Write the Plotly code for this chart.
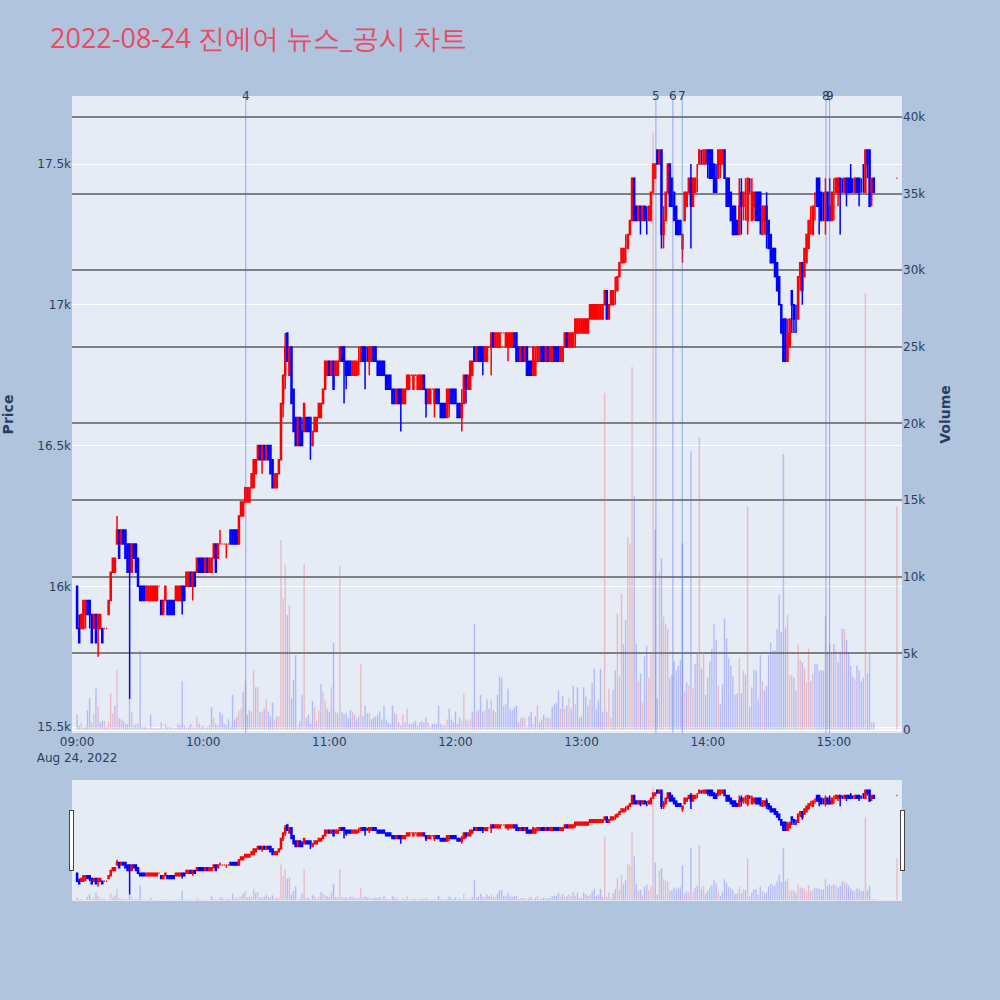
import pandas as pd
import plotly.graph_objects as go
from plotly.subplots import make_subplots

# 1분봉 09:00 ~ 15:19, 그리고 15:30 종가 단일가
times = list(pd.date_range("2022-08-24 09:00", periods=380, freq="min")) + [pd.Timestamp("2022-08-24 15:30")]

opens = [
    16000, 15850, 15850, 15850, 15900, 15950, 15950, 15900, 15850, 15900,
    15850, 15850, 15850, 15850, 15850, 15900, 15950, 16050, 16050, 16150,
    16200, 16150, 16200, 16200, 16150, 16150, 16050, 16150, 16150, 16100,
    16000, 16000, 16000, 15950, 15950, 15950, 15950, 15950, 15950, 16000,
    15950, 15900, 15950, 15950, 15950, 15950, 15950, 15950, 15950, 15950,
    16000, 16000, 16000, 16000, 16050, 16000, 16050, 16050, 16100, 16100,
    16100, 16050, 16100, 16050, 16050, 16100, 16150, 16100, 16150, 16150,
    16150, 16150, 16150, 16200, 16200, 16200, 16200, 16150, 16250, 16250,
    16300, 16300, 16300, 16350, 16350, 16400, 16450, 16500, 16450, 16500,
    16450, 16500, 16500, 16450, 16350, 16350, 16400, 16450, 16650, 16750,
    16900, 16750, 16850, 16700, 16600, 16500, 16600, 16550, 16550, 16600,
    16600, 16600, 16500, 16550, 16550, 16600, 16600, 16650, 16700, 16750,
    16800, 16750, 16800, 16750, 16750, 16800, 16850, 16850, 16800, 16800,
    16800, 16750, 16750, 16750, 16800, 16800, 16850, 16850, 16800, 16800,
    16800, 16850, 16850, 16800, 16800, 16800, 16800, 16750, 16750, 16750,
    16700, 16700, 16650, 16700, 16700, 16650, 16650, 16700, 16700, 16750,
    16700, 16750, 16700, 16700, 16700, 16750, 16700, 16650, 16650, 16700,
    16650, 16700, 16700, 16650, 16650, 16650, 16600, 16650, 16700, 16700,
    16700, 16650, 16650, 16600, 16650, 16750, 16700, 16700, 16750, 16850,
    16800, 16850, 16850, 16850, 16800, 16800, 16850, 16850, 16900, 16850,
    16850, 16850, 16900, 16900, 16850, 16850, 16850, 16850, 16900, 16900,
    16850, 16800, 16850, 16800, 16850, 16800, 16800, 16750, 16750, 16800,
    16800, 16850, 16850, 16800, 16850, 16800, 16800, 16850, 16850, 16850,
    16800, 16800, 16850, 16900, 16850, 16850, 16850, 16900, 16900, 16900,
    16900, 16900, 16900, 16900, 16950, 16950, 16950, 16950, 16950, 16950,
    16950, 17000, 17050, 16950, 17000, 17000, 17050, 17050, 17100, 17150,
    17150, 17200, 17200, 17250, 17300, 17450, 17350, 17300, 17350, 17300,
    17350, 17300, 17300, 17300, 17400, 17450, 17550, 17500, 17550, 17250,
    17300, 17400, 17500, 17450, 17400, 17350, 17300, 17300, 17200, 17300,
    17350, 17400, 17450, 17350, 17400, 17450, 17500, 17500, 17500, 17500,
    17550, 17550, 17550, 17500, 17450, 17450, 17500, 17500, 17550, 17450,
    17450, 17400, 17350, 17350, 17300, 17250, 17400, 17350, 17400, 17300,
    17400, 17300, 17350, 17400, 17400, 17400, 17250, 17300, 17350, 17300,
    17250, 17200, 17200, 17150, 17100, 17000, 16950, 16950, 16800, 16850,
    17050, 17000, 16950, 16950, 17100, 17150, 17100, 17150, 17200, 17300,
    17250, 17350, 17450, 17450, 17400, 17300, 17300, 17400, 17350, 17300,
    17400, 17400, 17400, 17450, 17400, 17400, 17450, 17450, 17450, 17400,
    17400, 17450, 17450, 17400, 17400, 17400, 17550, 17550, 17400, 17450,
    17450,
]

highs = [
    16000, 15900, 15900, 15950, 15950, 15950, 15950, 15900, 15900, 15900,
    15900, 15900, 15850, 15850, 15850, 15950, 16050, 16100, 16100, 16250,
    16200, 16200, 16200, 16200, 16150, 16150, 16150, 16150, 16150, 16100,
    16000, 16000, 16000, 16000, 16000, 16000, 16000, 16000, 16000, 16000,
    15950, 15950, 16000, 15950, 15950, 15950, 15950, 16000, 16000, 16000,
    16000, 16000, 16050, 16050, 16050, 16050, 16050, 16100, 16100, 16100,
    16100, 16100, 16100, 16100, 16100, 16150, 16150, 16150, 16200, 16150,
    16150, 16150, 16150, 16200, 16200, 16200, 16200, 16250, 16300, 16300,
    16350, 16350, 16350, 16400, 16450, 16450, 16500, 16500, 16500, 16500,
    16500, 16500, 16500, 16450, 16400, 16400, 16450, 16650, 16750, 16900,
    16900, 16850, 16850, 16700, 16600, 16600, 16600, 16600, 16650, 16600,
    16600, 16600, 16550, 16600, 16600, 16650, 16650, 16700, 16800, 16800,
    16800, 16800, 16800, 16800, 16800, 16850, 16850, 16850, 16800, 16800,
    16800, 16800, 16800, 16800, 16850, 16850, 16850, 16850, 16850, 16850,
    16850, 16850, 16850, 16800, 16800, 16800, 16800, 16750, 16750, 16750,
    16700, 16700, 16700, 16700, 16700, 16700, 16700, 16750, 16750, 16750,
    16750, 16750, 16750, 16750, 16750, 16750, 16700, 16700, 16700, 16700,
    16700, 16700, 16700, 16650, 16650, 16650, 16700, 16700, 16700, 16700,
    16700, 16650, 16650, 16700, 16750, 16750, 16750, 16800, 16800, 16850,
    16850, 16850, 16850, 16850, 16850, 16850, 16850, 16900, 16900, 16900,
    16900, 16900, 16900, 16900, 16900, 16900, 16900, 16900, 16900, 16900,
    16850, 16850, 16850, 16850, 16850, 16800, 16800, 16850, 16850, 16850,
    16850, 16850, 16850, 16850, 16850, 16850, 16850, 16850, 16850, 16850,
    16850, 16850, 16900, 16900, 16900, 16900, 16900, 16950, 16950, 16950,
    16950, 16950, 16950, 16950, 17000, 17000, 17000, 17000, 17000, 17000,
    17000, 17050, 17050, 17000, 17050, 17050, 17100, 17100, 17150, 17200,
    17200, 17250, 17250, 17300, 17450, 17450, 17350, 17350, 17350, 17350,
    17350, 17350, 17350, 17400, 17500, 17500, 17550, 17550, 17550, 17350,
    17400, 17500, 17500, 17450, 17400, 17350, 17300, 17300, 17250, 17400,
    17400, 17450, 17500, 17450, 17450, 17500, 17550, 17550, 17550, 17550,
    17550, 17550, 17550, 17500, 17500, 17550, 17550, 17550, 17550, 17450,
    17450, 17400, 17350, 17350, 17300, 17450, 17450, 17400, 17450, 17450,
    17450, 17450, 17400, 17400, 17400, 17400, 17350, 17350, 17400, 17300,
    17250, 17200, 17200, 17150, 17100, 17000, 16950, 16950, 16950, 16950,
    17050, 17000, 17000, 17100, 17150, 17150, 17200, 17250, 17300, 17350,
    17350, 17400, 17450, 17450, 17400, 17400, 17450, 17400, 17450, 17400,
    17450, 17450, 17450, 17450, 17450, 17450, 17450, 17450, 17500, 17450,
    17450, 17450, 17450, 17450, 17500, 17550, 17550, 17550, 17450, 17450,
    17450,
]

lows = [
    15850, 15800, 15850, 15850, 15850, 15900, 15850, 15800, 15850, 15800,
    15750, 15850, 15800, 15850, 15850, 15900, 15950, 16050, 16050, 16150,
    16100, 16150, 16150, 16100, 16050, 15600, 16050, 16100, 16050, 16000,
    15950, 15950, 15950, 15950, 15950, 15950, 15950, 15950, 15950, 16000,
    15900, 15900, 15950, 15900, 15900, 15900, 15900, 15950, 15950, 15950,
    15900, 15950, 16000, 16000, 16000, 15950, 16000, 16050, 16050, 16050,
    16050, 16050, 16050, 16050, 16050, 16100, 16050, 16100, 16150, 16150,
    16150, 16100, 16150, 16150, 16150, 16150, 16150, 16150, 16250, 16250,
    16300, 16300, 16300, 16350, 16350, 16400, 16450, 16450, 16400, 16450,
    16450, 16450, 16400, 16350, 16350, 16350, 16400, 16450, 16600, 16700,
    16800, 16750, 16650, 16550, 16500, 16500, 16500, 16500, 16550, 16550,
    16550, 16450, 16500, 16550, 16550, 16600, 16600, 16650, 16700, 16750,
    16750, 16750, 16700, 16750, 16750, 16800, 16800, 16650, 16700, 16750,
    16750, 16750, 16750, 16750, 16750, 16800, 16800, 16700, 16800, 16750,
    16800, 16800, 16800, 16750, 16750, 16750, 16750, 16700, 16700, 16700,
    16650, 16650, 16650, 16650, 16550, 16650, 16650, 16700, 16700, 16750,
    16700, 16750, 16700, 16700, 16700, 16700, 16600, 16650, 16650, 16700,
    16600, 16650, 16650, 16600, 16600, 16600, 16600, 16600, 16650, 16650,
    16650, 16600, 16600, 16550, 16650, 16650, 16700, 16700, 16750, 16800,
    16800, 16800, 16800, 16750, 16800, 16800, 16850, 16750, 16850, 16850,
    16850, 16850, 16900, 16900, 16850, 16800, 16850, 16850, 16850, 16800,
    16800, 16800, 16800, 16800, 16750, 16750, 16750, 16750, 16750, 16800,
    16800, 16800, 16800, 16800, 16800, 16800, 16800, 16800, 16800, 16800,
    16800, 16800, 16850, 16850, 16850, 16850, 16850, 16850, 16900, 16900,
    16900, 16900, 16900, 16900, 16950, 16950, 16950, 16950, 16950, 16950,
    16950, 17000, 16950, 16950, 17000, 17000, 17000, 17050, 17100, 17150,
    17150, 17150, 17200, 17250, 17300, 17300, 17300, 17300, 17250, 17300,
    17300, 17250, 17300, 17300, 17400, 17450, 17500, 17500, 17200, 17200,
    17300, 17400, 17350, 17350, 17300, 17250, 17250, 17250, 17150, 17300,
    17350, 17400, 17200, 17350, 17400, 17400, 17500, 17500, 17500, 17500,
    17450, 17450, 17450, 17400, 17400, 17450, 17450, 17500, 17450, 17350,
    17350, 17300, 17250, 17250, 17250, 17250, 17250, 17300, 17300, 17250,
    17400, 17300, 17300, 17300, 17300, 17250, 17250, 17250, 17200, 17200,
    17150, 17150, 17100, 17050, 17000, 16900, 16800, 16800, 16800, 16850,
    16900, 16900, 16900, 16950, 17050, 17000, 17100, 17150, 17200, 17250,
    17250, 17300, 17350, 17250, 17300, 17300, 17250, 17300, 17300, 17300,
    17300, 17400, 17350, 17250, 17400, 17400, 17350, 17400, 17400, 17400,
    17400, 17400, 17350, 17400, 17400, 17400, 17450, 17350, 17350, 17400,
    17450,
]

closes = [
    15850, 15800, 15900, 15950, 15950, 15900, 15900, 15800, 15900, 15800,
    15900, 15900, 15800, 15850, 15850, 15950, 16050, 16100, 16100, 16200,
    16100, 16200, 16150, 16100, 16050, 16050, 16150, 16100, 16050, 16000,
    15950, 15950, 15950, 16000, 16000, 16000, 16000, 16000, 16000, 16000,
    15900, 15950, 16000, 15900, 15900, 15900, 15900, 16000, 16000, 16000,
    15950, 15950, 16050, 16050, 16000, 16050, 16000, 16100, 16050, 16050,
    16050, 16100, 16050, 16100, 16100, 16150, 16050, 16150, 16150, 16150,
    16150, 16150, 16150, 16150, 16150, 16150, 16150, 16250, 16300, 16300,
    16350, 16350, 16350, 16400, 16450, 16450, 16500, 16450, 16500, 16450,
    16500, 16450, 16400, 16350, 16400, 16400, 16450, 16650, 16750, 16850,
    16800, 16850, 16650, 16550, 16500, 16600, 16500, 16500, 16650, 16550,
    16550, 16550, 16550, 16600, 16600, 16650, 16650, 16700, 16800, 16800,
    16750, 16800, 16700, 16800, 16800, 16850, 16800, 16800, 16750, 16750,
    16750, 16800, 16800, 16800, 16800, 16850, 16800, 16800, 16800, 16850,
    16850, 16800, 16800, 16750, 16750, 16750, 16750, 16700, 16700, 16700,
    16650, 16650, 16700, 16650, 16650, 16700, 16700, 16750, 16750, 16750,
    16750, 16750, 16750, 16750, 16750, 16700, 16650, 16700, 16700, 16700,
    16700, 16650, 16650, 16600, 16600, 16600, 16700, 16700, 16650, 16650,
    16650, 16600, 16600, 16650, 16750, 16700, 16750, 16800, 16800, 16800,
    16850, 16800, 16800, 16800, 16850, 16850, 16850, 16900, 16850, 16900,
    16900, 16900, 16900, 16900, 16900, 16900, 16900, 16900, 16850, 16800,
    16800, 16850, 16800, 16850, 16750, 16750, 16750, 16850, 16800, 16850,
    16850, 16800, 16800, 16850, 16800, 16850, 16850, 16800, 16800, 16800,
    16850, 16850, 16900, 16850, 16900, 16900, 16900, 16950, 16950, 16950,
    16950, 16950, 16950, 16950, 17000, 17000, 17000, 17000, 17000, 17000,
    17000, 17050, 16950, 17000, 17050, 17050, 17050, 17100, 17150, 17200,
    17200, 17200, 17250, 17300, 17450, 17300, 17300, 17350, 17300, 17350,
    17300, 17300, 17350, 17400, 17500, 17500, 17500, 17550, 17250, 17300,
    17400, 17500, 17350, 17350, 17300, 17250, 17250, 17250, 17250, 17400,
    17400, 17450, 17350, 17450, 17450, 17450, 17550, 17500, 17550, 17550,
    17500, 17450, 17450, 17400, 17400, 17550, 17550, 17550, 17450, 17350,
    17350, 17300, 17250, 17250, 17250, 17350, 17350, 17400, 17400, 17450,
    17400, 17400, 17400, 17300, 17300, 17300, 17350, 17350, 17250, 17200,
    17150, 17150, 17100, 17050, 17000, 16900, 16800, 16800, 16900, 16950,
    17000, 16950, 16950, 17100, 17150, 17050, 17200, 17250, 17300, 17300,
    17350, 17350, 17350, 17350, 17300, 17300, 17400, 17300, 17300, 17400,
    17400, 17450, 17450, 17400, 17400, 17450, 17400, 17400, 17400, 17400,
    17450, 17400, 17400, 17400, 17400, 17550, 17500, 17350, 17450, 17400,
    17450,
]

volumes = [
    1000, 300, 500, 150, 200, 1300, 2100, 500, 1100, 2700,
    1600, 500, 600, 600, 200, 500, 2400, 1100, 1600, 3900,
    800, 700, 600, 400, 400, 2100, 1200, 300, 400, 400,
    5200, 200, 200, 200, 100, 1000, 100, 150, 100, 100,
    500, 100, 400, 200, 200, 200, 100, 150, 400, 300,
    3200, 300, 150, 200, 400, 200, 150, 900, 400, 200,
    300, 150, 200, 300, 1500, 800, 400, 300, 1200, 1000,
    400, 300, 700, 200, 2300, 700, 900, 1300, 1400, 2500,
    3200, 1000, 1300, 1200, 3900, 2800, 2800, 1200, 1200, 1400,
    2000, 1200, 900, 1800, 700, 900, 900, 12400, 8600, 10800,
    7500, 8100, 2100, 3300, 4900, 300, 600, 2300, 10800, 800,
    1000, 400, 1900, 1500, 600, 1300, 3000, 2500, 1900, 1400,
    1200, 2800, 5700, 1200, 1100, 10700, 1200, 1000, 1100, 800,
    1300, 1200, 1000, 700, 900, 4300, 900, 1600, 1100, 1100,
    700, 800, 900, 1000, 1200, 700, 1600, 700, 500, 400,
    1600, 1100, 1000, 500, 300, 1000, 500, 1400, 400, 400,
    500, 600, 300, 500, 600, 500, 800, 500, 200, 400,
    400, 400, 1600, 400, 300, 300, 700, 1400, 700, 500,
    1200, 400, 800, 600, 2400, 700, 600, 700, 1200, 6900,
    1200, 1300, 2300, 1200, 1300, 2000, 1400, 2000, 1300, 1200,
    2300, 3500, 3400, 1600, 1700, 2700, 1400, 1300, 1500, 1600,
    500, 800, 800, 800, 200, 900, 1200, 400, 900, 1600,
    500, 700, 1000, 800, 800, 800, 1500, 1700, 1800, 2600,
    1400, 2200, 1400, 1600, 2100, 1400, 2900, 1700, 2800, 800,
    900, 2800, 2200, 1600, 2000, 3100, 4000, 1400, 2000, 4000,
    1200, 22000, 1200, 2700, 800, 2600, 3900, 7600, 3500, 8900,
    5600, 7200, 12600, 12200, 23700, 15300, 5600, 3200, 3700, 1800,
    4800, 5500, 3400, 4900, 39000, 13100, 2100, 10300, 11200, 7400,
    6900, 6600, 3400, 3600, 4500, 3900, 4200, 4600, 12200, 2500,
    3100, 2900, 18200, 2700, 4300, 5000, 19100, 4000, 5000, 2300,
    3400, 4500, 5300, 6900, 5900, 2900, 1700, 3000, 7300, 6000,
    4700, 4200, 3500, 2300, 2400, 4700, 2400, 3900, 3600, 14600,
    1500, 2800, 3900, 3900, 2000, 4900, 3200, 2600, 2900, 4900,
    5700, 5200, 5200, 6600, 8800, 6400, 18000, 6700, 7500, 3600,
    3600, 3400, 2600, 5600, 4600, 4400, 4000, 3100, 5300, 3200,
    3700, 4300, 4300, 3900, 3900, 3900, 7400, 5100, 5600, 5100,
    5600, 5200, 4400, 5100, 6600, 6600, 5900, 5100, 4200, 3500,
    3300, 4200, 3900, 3200, 3400, 28500, 3700, 5000, 500, 500,
    14600,
]

# 뉴스/공시 시각
news_times = ["2022-08-24 10:20:16", "2022-08-24 13:35:21", "2022-08-24 13:43:26",
              "2022-08-24 13:47:52", "2022-08-24 14:56:14", "2022-08-24 14:57:57"]
news_labels = ["4", "5", "6", "7", "8", "9"]

# 전일 대비 상승이면 빨강, 아니면 파랑
vol_colors = ["blue"]
for i in range(1, len(closes)):
    vol_colors.append("red" if closes[i] > closes[i - 1] else "blue")

fig = make_subplots(specs=[[{"secondary_y": True}]])

fig.add_trace(go.Candlestick(
    x=times, open=opens, high=highs, low=lows, close=closes,
    increasing=dict(line=dict(color="red", width=1.5), fillcolor="red"),
    decreasing=dict(line=dict(color="blue", width=1.5), fillcolor="blue"),
    name="Price", showlegend=False,
), secondary_y=False)

fig.add_trace(go.Bar(
    x=times, y=volumes, marker_color=vol_colors, opacity=0.25,
    name="Volume", showlegend=False,
), secondary_y=True)

for t, label in zip(news_times, news_labels):
    fig.add_shape(type="line", x0=t, x1=t, xref="x", y0=0, y1=1, yref="paper",
                  line=dict(color="royalblue", width=1), opacity=0.5)
    fig.add_annotation(x=t, y=1, xref="x", yref="paper", yanchor="middle", text=label,
                       showarrow=False, font=dict(size=12, color="#2a3f5f"))

fig.update_layout(
    width=1000, height=1000,
    font=dict(family="DejaVu Sans"),
    title=dict(text="2022-08-24 진에어 뉴스_공시 차트", x=0.05, y=0.961, yanchor="middle",
               font=dict(family="Open Sans", size=27, color="#EA4A64")),
    paper_bgcolor="lightsteelblue",
    plot_bgcolor="#E5ECF6",
    margin=dict(l=72, r=98, t=96, b=100),
    showlegend=False,
)

fig.update_xaxes(
    domain=[0, 1],
    range=["2022-08-24 08:57:35", "2022-08-24 15:32:25"],
    rangeslider=dict(visible=True, range=["2022-08-24 08:59:30", "2022-08-24 15:30:30"],
                     bgcolor="#E5ECF6"),
)
fig.update_yaxes(title_text="<b>Price</b>", title_standoff=20, automargin=False,
                 range=[15479, 17742], secondary_y=False)
fig.update_yaxes(title_text="<b>Volume</b>", range=[-200, 41370], gridcolor="gray",
                 gridwidth=1.5, automargin=False, secondary_y=True)

fig.write_html("out.html", config={"displayModeBar": False},
               post_script="document.body.style.margin = '0';")
